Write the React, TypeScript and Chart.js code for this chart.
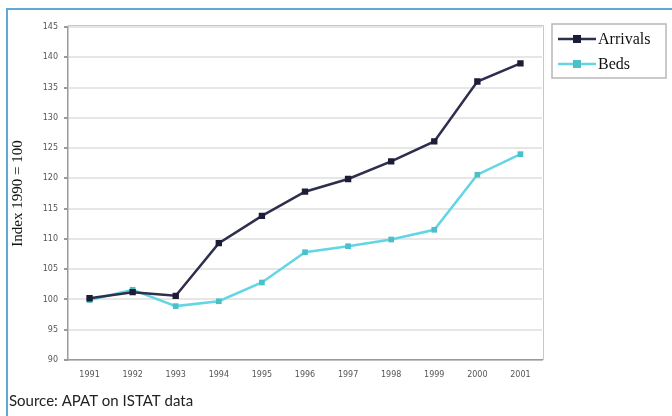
import React, { useEffect, useRef } from "react";
import { Chart, registerables } from "chart.js";

Chart.register(...registerables);

const years = ["1991", "1992", "1993", "1994", "1995", "1996", "1997", "1998", "1999", "2000", "2001"];
const arrivals = [100.2, 101.2, 100.6, 109.3, 113.8, 117.8, 119.9, 122.8, 126.1, 136.0, 139.0];
const beds = [99.9, 101.6, 98.9, 99.7, 102.8, 107.8, 108.8, 109.9, 111.5, 120.6, 124.0];
const seriesNames = ["Arrivals", "Beds"];
const seriesColors = ["#2e2e4e", "#62d6e4"];
const markerColors = ["#1c1c36", "#4cc0c8"];
const yTitle = "Index 1990 = 100";
const sourceText = "Source: APAT on ISTAT data";

const framePlugin = {
  id: "frame",
  beforeDraw(chart: any) {
    const ctx = chart.ctx;
    ctx.save();
    ctx.fillStyle = "#ffffff";
    ctx.fillRect(0, 0, chart.width, chart.height);
    ctx.strokeStyle = "#5ea8dc";
    ctx.lineWidth = 2;
    ctx.beginPath();
    ctx.moveTo(7, chart.height);
    ctx.lineTo(7, 9);
    ctx.lineTo(chart.width, 9);
    ctx.stroke();
    ctx.restore();
  },
  afterDraw(chart: any) {
    const ctx = chart.ctx;
    const a = chart.chartArea;
    ctx.save();
    ctx.strokeStyle = "#c8c8c8";
    ctx.lineWidth = 1;
    ctx.beginPath();
    ctx.moveTo(a.left, a.top + 0.5 - 2);
    ctx.lineTo(a.right + 1.5, a.top + 0.5 - 2);
    ctx.lineTo(a.right + 1.5, a.bottom);
    ctx.stroke();
    const lx = 552, ly = 24, lw = 114, lh = 54;
    ctx.strokeStyle = "#b8b8b8";
    ctx.lineWidth = 1.5;
    ctx.strokeRect(lx, ly, lw, lh);
    const rows = [39, 64];
    for (let i = 0; i < 2; i++) {
      const y = rows[i];
      ctx.strokeStyle = seriesColors[i];
      ctx.lineWidth = 2.5;
      ctx.beginPath();
      ctx.moveTo(558, y);
      ctx.lineTo(596, y);
      ctx.stroke();
      ctx.fillStyle = markerColors[i];
      ctx.fillRect(573, y - 4, 8, 8);
      ctx.fillStyle = "#111111";
      ctx.font = "16px 'Liberation Serif', serif";
      ctx.textBaseline = "middle";
      ctx.textAlign = "left";
      ctx.fillText(seriesNames[i], 598, y + 1);
    }
    ctx.fillStyle = "#222222";
    ctx.font = "15px Lato, sans-serif";
    ctx.textBaseline = "middle";
    ctx.fillText(sourceText, 9, 401);
    ctx.restore();
  },
};

export default function App() {
  const ref = useRef<HTMLCanvasElement>(null);
  useEffect(() => {
    const chart = new Chart(ref.current!, {
      type: "line",
      data: {
        labels: years,
        datasets: [
          {
            label: seriesNames[0],
            data: arrivals,
            borderColor: seriesColors[0],
            backgroundColor: markerColors[0],
            borderWidth: 2.5,
            pointStyle: "rect",
            pointRadius: 4.5,
            pointBorderWidth: 0,
            tension: 0,
          },
          {
            label: seriesNames[1],
            data: beds,
            borderColor: seriesColors[1],
            backgroundColor: markerColors[1],
            borderWidth: 2.5,
            pointStyle: "rect",
            pointRadius: 4,
            pointBorderWidth: 0,
            tension: 0,
          },
        ],
      },
      options: {
        animation: false,
        responsive: false,
        devicePixelRatio: 1,
        layout: { padding: { left: 0, right: 130, top: 27, bottom: 28 } },
        plugins: { legend: { display: false }, tooltip: { enabled: false } },
        scales: {
          x: {
            offset: true,
            grid: { display: false, drawTicks: false },
            border: { color: "#9a9a9a", width: 1.5 },
            ticks: { color: "#555", font: { size: 8, family: "'DejaVu Sans'" }, padding: 10, maxRotation: 0 },
            afterFit: (s: any) => { s.height = 28; },
          },
          y: {
            min: 90,
            max: 145,
            ticks: { stepSize: 5, color: "#555", font: { size: 8, family: "'DejaVu Sans'" }, padding: 6 },
            grid: { color: "#e6e6e6", lineWidth: 2, tickLength: 4, tickColor: "#9a9a9a" },
            border: { color: "#9a9a9a", width: 1.5 },
            title: {
              display: true,
              text: yTitle,
              color: "#111",
              font: { size: 15, family: "'Liberation Serif', serif" },
              padding: { top: 9, bottom: 0 },
            },
            afterFit: (s: any) => { s.width = 68; },
          },
        },
      },
      plugins: [framePlugin],
    });
    return () => chart.destroy();
  }, []);
  return (
    <div style={{ position: "fixed", left: 0, top: 0, width: 672, height: 416 }}>
      <canvas ref={ref} width={672} height={416} />
    </div>
  );
}
